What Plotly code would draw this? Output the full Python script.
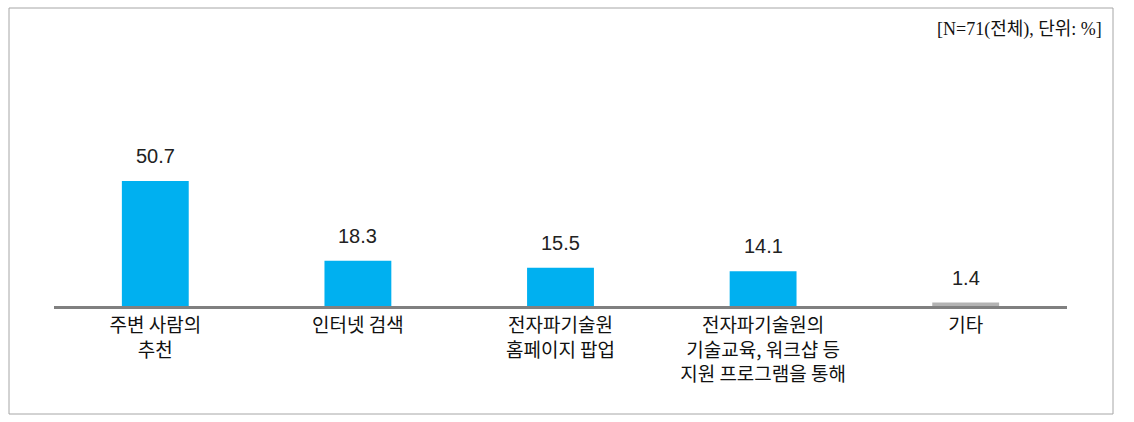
import plotly.graph_objects as go

categories = ["주변 사람의<br>추천", "인터넷 검색", "전자파기술원<br>홈페이지 팝업",
              "전자파기술원의<br>기술교육, 워크샵 등<br>지원 프로그램을 통해", "기타"]
values = [50.7, 18.3, 15.5, 14.1, 1.4]
colors = ["#00b0f0", "#00b0f0", "#00b0f0", "#00b0f0", "#b3b3b3"]
note = "[N=71(전체), 단위: %]"

W, H = 1134, 422
L, R, T, B = 54, W - 1067, 50, H - 306
fig = go.Figure()
fig.add_trace(go.Bar(x=categories, y=values, marker=dict(color=colors, line=dict(width=0)),
                     hoverinfo="skip"))

for c, v in zip(categories, values):
    fig.add_annotation(x=c, y=v, text=f"{v:.1f}", showarrow=False, yanchor="bottom",
                       yshift=12, font=dict(size=20, color="#222", family="Liberation Sans, Arial, sans-serif"))

pw, ph = W - L - R, H - T - B
def px(x): return (x - L) / pw
def py(y): return (H - B - y) / ph

fig.add_shape(type="rect", xref="paper", yref="paper", x0=px(9), x1=px(1113), y0=py(414), y1=py(8),
              line=dict(color="#a6a6a6", width=1), fillcolor="rgba(0,0,0,0)")
fig.add_annotation(xref="paper", yref="paper", x=px(1104), y=py(29), xanchor="right", yanchor="middle",
                   text=note, showarrow=False,
                   font=dict(size=18, color="#111", family="Liberation Serif, Noto Sans CJK KR, serif"))

fig.update_layout(
    width=W, height=H, margin=dict(l=L, r=R, t=T, b=B),
    paper_bgcolor="white", plot_bgcolor="white", bargap=0.67, showlegend=False,
    font=dict(family="Noto Sans CJK KR, sans-serif"),
)
fig.update_xaxes(showline=True, linecolor="#808080", linewidth=3, showgrid=False, ticks="",
                 tickfont=dict(size=19, color="#111", family="Noto Sans CJK KR, sans-serif"), fixedrange=True)
fig.update_yaxes(range=[0, 256 / 2.466], visible=False, showgrid=False, fixedrange=True)

fig.write_html("out.html", config={"displayModeBar": False})
